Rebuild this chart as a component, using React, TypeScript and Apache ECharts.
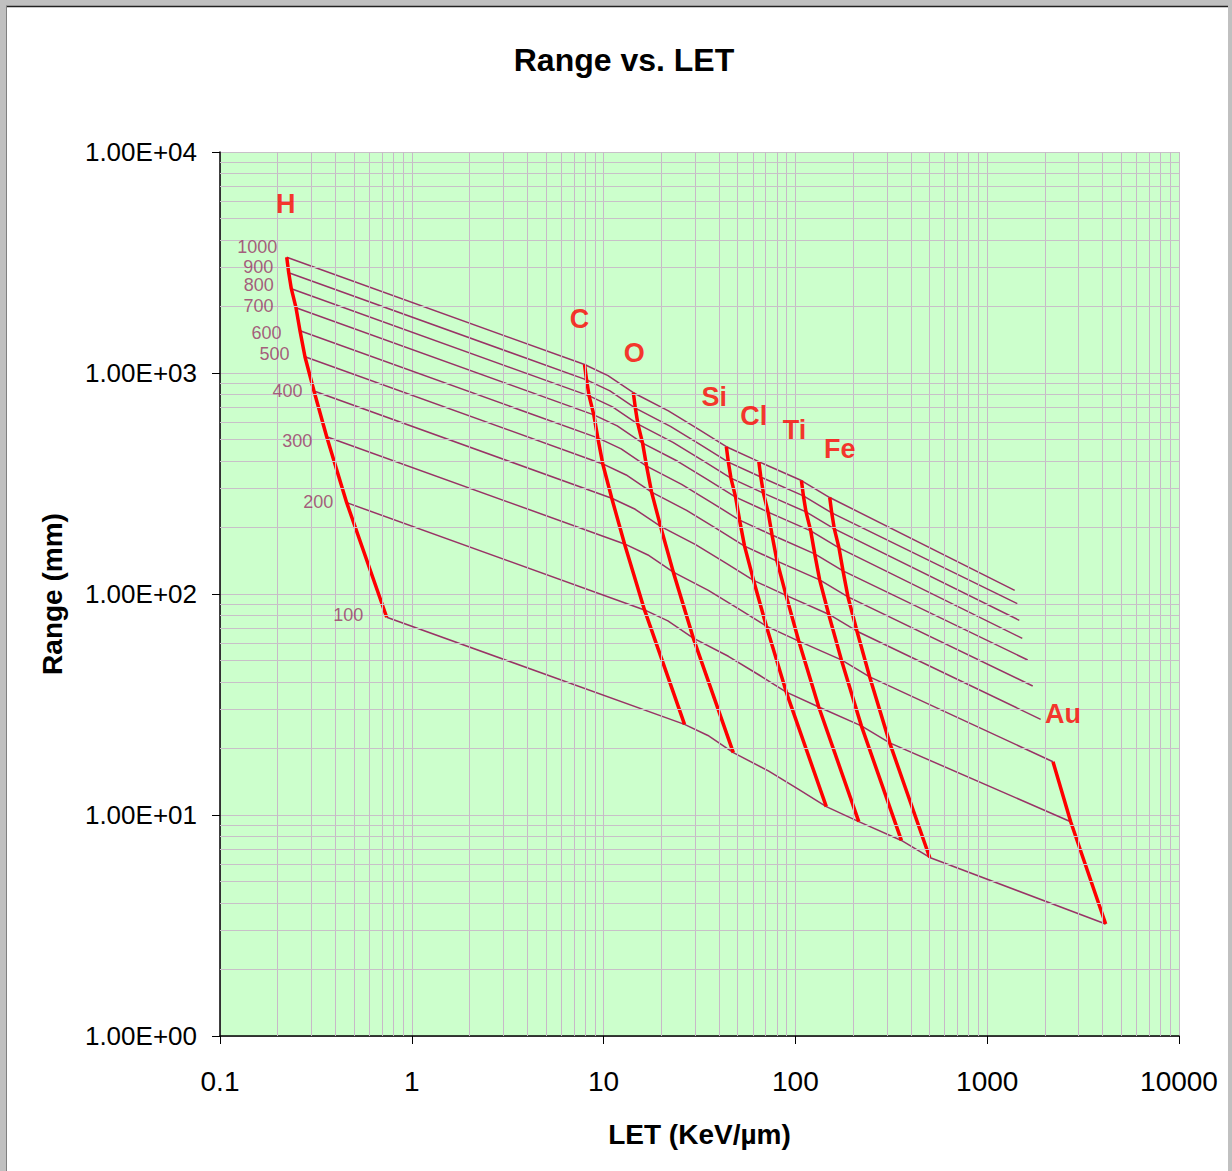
import React, { useEffect, useRef } from "react";
import * as echarts from "echarts";

// Energy (MeV/n) of each point, same order in every ion array
const ENERGIES = [1000, 900, 800, 700, 600, 500, 400, 300, 200, 100];

// LET (KeV/um) and Range (mm) per ion
const H_LET = [0.2228, 0.2282, 0.2354, 0.249, 0.2612, 0.2773, 0.309, 0.36, 0.4576, 0.7398];
const H_RANGE = [3338, 2844, 2407, 1975, 1554, 1185, 829, 515, 259, 78.5];
const C_LET = [7.956, 8.149, 8.406, 8.892, 9.327, 9.902, 11.03, 12.86, 16.34, 26.42];
const C_RANGE = [1092, 930.6, 787.6, 646.2, 508.5, 387.7, 271.2, 168.5, 84.7, 25.7];
const N_LET = [10.54, 10.79, 11.13, 11.78, 12.35, 13.12, 14.62, 17.03, 21.64, 34.99];
const N_RANGE = [973.7, 829.6, 702.1, 576.1, 453.3, 345.7, 241.8, 150.2, 75.55, 22.9];
const O_LET = [14.29, 14.64, 15.1, 15.97, 16.75, 17.79, 19.82, 23.09, 29.35, 47.45];
const O_RANGE = [814.1, 693.6, 587.1, 481.7, 379.0, 289.0, 202.2, 125.6, 63.17, 19.15];
const NE_LET = [21.77, 22.3, 23.0, 24.33, 25.52, 27.09, 30.19, 35.17, 44.71, 72.28];
const NE_RANGE = [673.6, 573.9, 485.7, 398.6, 313.6, 239.1, 167.3, 103.9, 52.27, 15.84];
const MG_LET = [31.48, 32.24, 33.26, 35.18, 36.91, 39.18, 43.66, 50.87, 64.66, 104.5];
const MG_RANGE = [554.1, 472.1, 399.6, 327.9, 258.0, 196.7, 137.6, 85.49, 43.0, 13.03];
const SI_LET = [43.65, 44.7, 46.12, 48.78, 51.17, 54.32, 60.53, 70.52, 89.64, 144.9];
const SI_RANGE = [464.0, 395.3, 334.6, 274.5, 216.0, 164.7, 115.2, 71.59, 36.0, 10.91];
const CL_LET = [64.46, 66.02, 68.1, 72.04, 75.57, 80.22, 89.39, 104.1, 132.4, 214.0];
const CL_RANGE = [396.9, 338.2, 286.2, 234.8, 184.8, 140.9, 98.57, 61.23, 30.8, 9.334];
const TI_LET = [107.5, 110.1, 113.6, 120.2, 126.1, 133.8, 149.1, 173.7, 220.8, 357.0];
const TI_RANGE = [326.2, 277.9, 235.2, 193.0, 151.9, 115.8, 81.01, 50.33, 25.31, 7.671];
const FE_LET = [151.0, 154.7, 159.6, 168.8, 177.1, 188.0, 209.5, 244.0, 310.2, 501.5];
const FE_RANGE = [273.2, 232.8, 197.0, 161.6, 127.2, 96.98, 67.85, 42.15, 21.2, 6.424];
const AU_LET = [1391, 1435, 1470, 1524, 1626, 1727, 1900, 2203, 2725, 4147];
const AU_RANGE = [103.9, 90.4, 76.0, 63.0, 50.3, 38.35, 27.1, 17.42, 9.326, 3.212];

// Ions in order of increasing LET (energy lines pass through all of them)
const ALL_IONS = [
  { let: H_LET, range: H_RANGE },
  { let: C_LET, range: C_RANGE },
  { let: N_LET, range: N_RANGE },
  { let: O_LET, range: O_RANGE },
  { let: NE_LET, range: NE_RANGE },
  { let: MG_LET, range: MG_RANGE },
  { let: SI_LET, range: SI_RANGE },
  { let: CL_LET, range: CL_RANGE },
  { let: TI_LET, range: TI_RANGE },
  { let: FE_LET, range: FE_RANGE },
  { let: AU_LET, range: AU_RANGE },
];

// Labelled ions drawn as red curves (from = first energy index drawn; labelAt = index of labelled point)
const RED_IONS = [
  { name: "H", let: H_LET, range: H_RANGE, from: 0, labelAt: 0, off: [-1, -53] },
  { name: "C", let: C_LET, range: C_RANGE, from: 0, labelAt: 0, off: [-5, -46] },
  { name: "O", let: O_LET, range: O_RANGE, from: 0, labelAt: 0, off: [1, -40] },
  { name: "Si", let: SI_LET, range: SI_RANGE, from: 0, labelAt: 0, off: [-12, -50] },
  { name: "Cl", let: CL_LET, range: CL_RANGE, from: 0, labelAt: 0, off: [-5, -46] },
  { name: "Ti", let: TI_LET, range: TI_RANGE, from: 0, labelAt: 0, off: [-7, -51] },
  { name: "Fe", let: FE_LET, range: FE_RANGE, from: 0, labelAt: 0, off: [10, -49] },
  { name: "Au", let: AU_LET, range: AU_RANGE, from: 7, labelAt: 7, off: [10, -48] },
];

// Offsets of the energy labels next to the H points
const ENERGY_LABEL_OFFSETS = [
  [-9, -10], [-15, -6], [-17, -4], [-22, -2], [-18, 2],
  [-15, -3], [-11, 0], [-14, 4], [-13, -1], [-23, -2],
];

const GRID_MULTS = [2, 3, 4, 5, 6, 7, 8, 9];
const X_DECADES = [0.1, 1, 10, 100, 1000];
const Y_DECADES = [1, 10, 100, 1000];

const FONT = "'Liberation Sans', Arial, Helvetica, sans-serif";
const PLUM = "#993366";
const GRID_V = "#c8b8c8";
const GRID_H = "#c8c0c8";

function minorValues(decades: number[]) {
  const out: number[] = [];
  decades.forEach((d) => GRID_MULTS.forEach((m) => out.push(Number((d * m).toPrecision(6)))));
  return out;
}

export default function App() {
  const ref = useRef<HTMLDivElement>(null);

  useEffect(() => {
    if (!ref.current) return;
    const chart = echarts.init(ref.current, null, { renderer: "svg" });

    const energySeries = ENERGIES.map((e, i) => ({
      type: "line",
      name: e + " MeV/n",
      data: ALL_IONS.map((ion) => [ion.let[i], ion.range[i]]),
      showSymbol: false,
      symbol: "none",
      lineStyle: { color: PLUM, width: 1.5 },
      z: 3,
      silent: true,
    }));

    const ionSeries = RED_IONS.map((ion) => ({
      type: "line",
      name: ion.name,
      data: ENERGIES.map((_, i) => [ion.let[i], ion.range[i]]).slice(ion.from),
      showSymbol: false,
      symbol: "none",
      lineStyle: { color: "#ff0000", width: 3.5 },
      z: 4,
      silent: true,
    }));

    const energyLabels = {
      type: "scatter",
      symbolSize: 1,
      itemStyle: { color: "rgba(0,0,0,0)" },
      z: 6,
      silent: true,
      data: ENERGIES.map((e, i) => ({
        value: [H_LET[i], H_RANGE[i]],
        label: {
          show: true,
          formatter: String(e),
          position: "left",
          distance: 0,
          offset: ENERGY_LABEL_OFFSETS[i],
          color: PLUM,
          fontSize: 18,
          fontFamily: FONT,
        },
      })),
    };

    const ionLabels = {
      type: "scatter",
      symbolSize: 1,
      itemStyle: { color: "rgba(0,0,0,0)" },
      z: 6,
      silent: true,
      data: RED_IONS.map((ion) => ({
        value: [ion.let[ion.labelAt], ion.range[ion.labelAt]],
        label: {
          show: true,
          formatter: ion.name,
          position: "inside",
          offset: ion.off,
          color: "#ff0000",
          fontSize: 27,
          fontWeight: "bold",
          fontFamily: FONT,
        },
      })),
    };

    const gridSeries = {
      type: "line",
      data: [],
      z: 1,
      silent: true,
      markLine: {
        silent: true,
        symbol: ["none", "none"],
        label: { show: false },
        animation: false,
        data: [
          ...minorValues(X_DECADES).map((v) => ({ xAxis: v, lineStyle: { color: GRID_V, width: 1, type: "solid" } })),
          ...minorValues(Y_DECADES).map((v) => ({ yAxis: v, lineStyle: { color: GRID_H, width: 1, type: "solid" } })),
        ],
      },
    };

    const option = {
      animation: false,
      backgroundColor: "#ffffff",
      textStyle: { fontFamily: FONT },
      grid: {
        left: 220,
        top: 152,
        width: 959,
        height: 884,
        show: true,
        backgroundColor: "#ccffcc",
        borderWidth: 0,
      },
      graphic: [
        { type: "rect", shape: { x: 0, y: 0, width: 1232, height: 6 }, style: { fill: "#c0c0c0" }, silent: true },
        { type: "rect", shape: { x: 0, y: 0, width: 6, height: 1171 }, style: { fill: "#c0c0c0" }, silent: true },
        { type: "rect", shape: { x: 1228, y: 0, width: 4, height: 1171 }, style: { fill: "#c0c0c0" }, silent: true },
        { type: "line", shape: { x1: 6, y1: 6.5, x2: 1228, y2: 6.5 }, style: { stroke: "#222222", lineWidth: 1.5 }, silent: true },
        { type: "line", shape: { x1: 6.5, y1: 6, x2: 6.5, y2: 1171 }, style: { stroke: "#808080", lineWidth: 1 }, silent: true },
        {
          type: "text",
          x: 624,
          y: 60,
          style: {
            text: "Range vs. LET",
            fill: "#000",
            font: "bold 32px " + FONT,
            textAlign: "center",
            textVerticalAlign: "middle",
          },
          silent: true,
        },
      ],
      xAxis: {
        type: "log",
        logBase: 10,
        min: 0.1,
        max: 10000,
        name: "LET (KeV/\u00b5m)",
        nameLocation: "middle",
        nameGap: 84,
        nameTextStyle: { fontSize: 28, fontWeight: "bold", color: "#000", fontFamily: FONT },
        axisLine: { show: true, onZero: false, lineStyle: { color: "#000", width: 1.5 } },
        axisTick: { show: true, length: 8, lineStyle: { color: "#000" } },
        axisLabel: {
          fontSize: 28,
          color: "#000",
          margin: 31,
          fontFamily: FONT,
          formatter: (v: number) => (v < 1 ? String(Number(v.toPrecision(3))) : String(Math.round(v))),
        },
        splitLine: { show: true, lineStyle: { color: GRID_V, width: 1 } },
        minorTick: { show: false },
        minorSplitLine: { show: false },
      },
      yAxis: {
        type: "log",
        logBase: 10,
        min: 1,
        max: 10000,
        name: "Range (mm)",
        nameLocation: "middle",
        nameGap: 154,
        nameRotate: 90,
        nameTextStyle: { fontSize: 28, fontWeight: "bold", color: "#000", fontFamily: FONT },
        axisLine: { show: true, onZero: false, lineStyle: { color: "#000", width: 1.5 } },
        axisTick: { show: true, length: 8, lineStyle: { color: "#000" } },
        axisLabel: {
          fontSize: 26,
          color: "#000",
          margin: 23,
          fontFamily: FONT,
          formatter: (v: number) => {
            const e = Math.round(Math.log10(v));
            const m = v / Math.pow(10, e);
            return m.toFixed(2) + "E" + (e < 0 ? "-" : "+") + String(Math.abs(e)).padStart(2, "0");
          },
        },
        splitLine: { show: true, lineStyle: { color: GRID_H, width: 1 } },
        minorTick: { show: false },
        minorSplitLine: { show: false },
      },
      series: [gridSeries, ...energySeries, ...ionSeries, energyLabels, ionLabels],
    };

    chart.setOption(option as any);
    return () => chart.dispose();
  }, []);

  return (
    <div
      ref={ref}
      style={{ position: "absolute", left: 0, top: 0, width: 1232, height: 1171 }}
    />
  );
}
